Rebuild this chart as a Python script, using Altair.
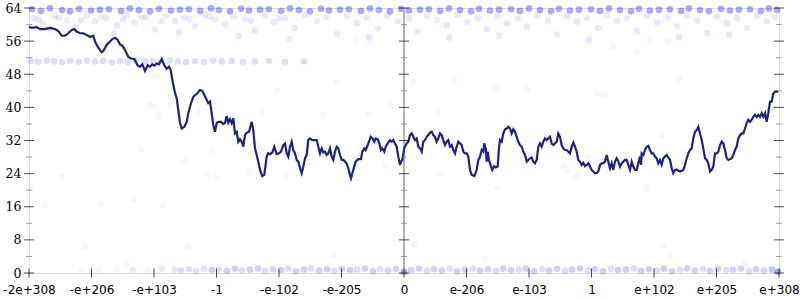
import altair as alt
import pandas as pd

# ---- axis labels (x positions are measured in "tick units" of 62.5 per label step, domain 0..750)
x_labels = ["-2e+308", "-e+206", "-e+103", "-1", "-e-102", "-e-205", "0",
            "e-206", "e-103", "1", "e+102", "e+205", "e+308"]
y_major = [0, 8, 16, 24, 32, 40, 48, 56, 64]
y_minor = [4, 12, 20, 28, 36, 44, 52, 60]
axis_x = [0, 375, 750]

# ---- main line
line_x = [0, 2.7, 7.7, 11, 16, 21, 26, 29.3, 32.7, 36, 39.3, 42.7, 45.3, 47.7, 51, 54.3, 57.7, 61, 64.3, 66,
          67.7, 69.3, 72.7, 74.3, 77.7, 81, 83.3, 86, 88.7, 91, 93.3, 96, 99.3, 102, 105.3, 108.7, 111, 113.3,
          116, 118.7, 121, 123.3, 125.3, 127.7, 130, 132.7, 135.3, 137.7, 140, 141.7, 143.7, 146, 147.7, 149.3,
          151, 152.7, 155.3, 157.7, 159.3, 162, 164.3, 166.7, 168.7, 171, 173.3, 175.3, 177.7, 179.3, 181,
          182.7, 184.3, 186, 187.7, 189.3, 192, 194.3, 196, 197.7, 199.3, 201, 202.7, 204.3, 206, 207.7, 209.3,
          211, 212.7, 214.3, 216, 217.7, 220, 222.7, 224.3, 226, 227.7, 229.3, 231, 233.3, 235.3, 237.7, 239.3,
          241, 243.3, 245.3, 247.7, 250, 252, 254.3, 256, 257.7, 259.3, 261, 262.7, 264.3, 266, 267.7, 269.3,
          271, 272.7, 274.3, 276, 277.7, 279.3, 281, 283.3, 285.3, 287.7, 289.3, 291, 292.7, 294.3, 296, 297.7,
          299.3, 301, 302.7, 304.3, 306, 307.7, 309.3, 311, 312.7, 314.3, 316, 317.7, 319.3, 321, 322, 324.3,
          326.7, 329.3, 332, 333.3, 335.3, 336.7, 338.7, 340, 341.7, 343.3, 345.3, 346.7, 348.7, 350.3, 352,
          353.3, 355.3, 356.7, 358.7, 361, 362.7, 364.3, 366, 367.7, 369.3, 371, 372, 373.3, 375.3, 377.7, 379.3,
          381, 382.7, 384.3, 386, 387.7, 389.3, 391, 392.7, 394.3, 396, 397.7, 399.3, 401, 402.7, 404.3, 406,
          407.7, 409.3, 411, 412.7, 414.3, 416, 417.7, 419.3, 421, 422.7, 424.3, 426, 427.7, 429.3, 431, 432.7,
          434.3, 436, 437.7, 439.3, 441, 442.7, 445.3, 447.7, 449.3, 451, 452.7, 454.3, 455.3, 456.7, 457.7,
          458.7, 460, 462, 463.3, 465, 466.7, 468.7, 470, 471, 472.7, 474.3, 476, 477.7, 479.3, 481, 482.7,
          484.3, 486, 487.7, 489.3, 491, 492.7, 494.3, 496, 497.7, 499.3, 501, 502.7, 504.3, 506, 507.7, 509.3,
          511, 512.7, 514.3, 516, 517.7, 519.3, 521, 522.7, 524.3, 526, 527.7, 529.3, 531, 532.7, 534.3, 536,
          537.7, 539.3, 541, 542.7, 544.3, 546, 547.7, 549.3, 551, 552.7, 554.3, 556, 557.7, 559.3, 561, 562.7,
          564.3, 566, 567.7, 569.3, 571, 572.7, 574.3, 576, 577.7, 579.3, 581, 582.7, 584.3, 586, 587.7, 589.3,
          591, 592.7, 594.3, 596, 597.7, 599.3, 601, 602.7, 604.3, 606, 607.7, 609.3, 611, 612, 612.7, 614.3,
          616, 617.7, 619.3, 621, 622.7, 624.3, 626, 627.7, 629.3, 631, 632.7, 634.3, 636, 637.7, 639.3, 641,
          642.7, 644.3, 646, 647.7, 649.3, 651, 652.7, 654.3, 656, 657.7, 659.3, 661, 662.7, 664.3, 666, 667.7,
          669.3, 671, 672.7, 674.3, 676, 677.7, 679.3, 681, 682.7, 684.3, 686, 687.7, 689.3, 691, 692.7, 694.3,
          696, 697.7, 699.3, 701, 702.7, 704.3, 706, 707.7, 709.3, 711, 712.7, 714.3, 716, 717.7, 719.3, 721,
          722.7, 724.3, 726, 727.7, 729.3, 731, 732.7, 734.3, 736, 737.7, 739.3, 741, 742.7, 744.3, 746, 747.7,
          749.3]
line_y = [59.5, 59.2, 59.4, 58.9, 58.9, 59.2, 58.9, 58.4, 57.3, 57.3, 57.9, 58.7, 58.9, 58.3, 57.9, 57.9, 57.5,
          57.0, 57.3, 55.9, 55.1, 54.4, 53.3, 53.6, 55.1, 55.9, 56.5, 56.8, 56.3, 55.2, 54.9, 53.9, 52.2, 51.8,
          51.7, 50.1, 49.8, 50.4, 48.8, 50.2, 49.8, 50.4, 50.1, 50.6, 50.4, 51.7, 50.2, 49.3, 49.8, 49.0, 46.2,
          43.5, 42.2, 39.4, 36.2, 34.9, 35.3, 36.5, 38.6, 41.0, 42.6, 43.0, 43.5, 44.2, 44.0, 43.0, 41.8, 41.0,
          41.4, 38.6, 35.7, 34.1, 36.2, 36.5, 36.5, 36.0, 36.2, 37.9, 36.3, 37.1, 36.2, 37.4, 33.7, 34.1, 31.7,
          32.3, 31.7, 30.5, 33.3, 33.9, 34.1, 36.5, 34.5, 30.1, 28.5, 26.9, 24.9, 23.4, 23.7, 28.1, 28.9, 28.7,
          29.1, 30.5, 28.7, 28.9, 29.3, 30.9, 31.3, 28.9, 28.1, 30.5, 31.7, 29.7, 28.9, 27.3, 26.9, 25.3, 24.1,
          25.7, 27.7, 28.5, 32.1, 32.5, 32.1, 32.1, 32.1, 30.5, 28.9, 30.1, 29.1, 29.3, 28.5, 28.9, 30.1, 28.1,
          27.3, 29.3, 30.5, 30.1, 28.5, 27.3, 27.3, 26.9, 26.5, 25.3, 23.7, 22.9, 24.9, 26.9, 27.5, 27.5, 29.3,
          30.1, 29.7, 30.9, 31.7, 32.9, 32.5, 31.7, 32.5, 32.3, 31.3, 29.7, 30.1, 29.3, 30.5, 31.3, 32.1, 31.7,
          32.1, 31.3, 30.5, 28.1, 26.1, 26.9, 27.3, 30.1, 31.3, 31.7, 33.3, 33.7, 32.9, 32.1, 32.5, 30.5, 30.1,
          29.3, 31.7, 32.1, 32.9, 33.3, 33.9, 34.1, 33.3, 32.9, 31.7, 32.5, 33.7, 33.3, 32.1, 30.9, 31.7, 32.1,
          30.5, 30.9, 29.7, 28.9, 30.5, 31.7, 31.3, 30.9, 29.3, 28.9, 28.9, 28.1, 24.9, 23.7, 23.4, 24.9, 27.3,
          28.1, 29.7, 29.3, 31.3, 30.1, 26.9, 29.3, 27.3, 25.7, 24.9, 25.8, 25.5, 25.7, 30.1, 32.1, 31.7, 33.7,
          34.7, 34.9, 35.3, 34.9, 33.7, 34.7, 34.1, 32.9, 31.7, 30.9, 30.5, 29.3, 28.5, 26.9, 27.3, 27.7, 27.9,
          26.9, 26.5, 27.3, 30.5, 31.3, 30.5, 31.7, 32.5, 32.1, 32.5, 32.9, 31.3, 30.9, 31.3, 31.7, 33.7, 32.9,
          30.9, 30.1, 29.7, 29.7, 29.3, 28.9, 30.5, 31.5, 30.5, 29.3, 27.3, 26.9, 26.1, 26.6, 25.8, 26.1, 26.5,
          25.7, 24.9, 24.5, 24.1, 24.1, 24.5, 26.1, 26.5, 26.5, 26.9, 28.5, 26.9, 25.3, 26.5, 24.9, 26.9, 27.7,
          26.9, 25.7, 26.5, 26.9, 27.3, 27.3, 26.1, 24.9, 26.9, 25.7, 24.9, 24.9, 26.5, 28.1, 26.1, 28.9, 28.5,
          29.7, 30.5, 30.7, 29.7, 28.9, 28.9, 28.1, 27.7, 26.5, 27.3, 26.1, 27.7, 28.1, 28.5, 27.9, 27.3, 25.3,
          24.1, 24.9, 25.0, 24.7, 24.5, 24.7, 24.9, 26.1, 27.7, 28.9, 29.7, 30.1, 32.5, 34.1, 34.5, 35.3, 33.7,
          32.1, 30.1, 27.7, 27.3, 26.5, 24.5, 24.9, 25.7, 28.9, 28.9, 29.3, 30.9, 31.7, 31.3, 29.7, 27.7, 27.3,
          27.5, 27.7, 28.5, 29.7, 30.5, 32.5, 33.3, 33.7, 33.7, 34.9, 36.2, 37.0, 36.5, 37.0, 37.7, 38.2, 37.7,
          38.2, 37.7, 38.6, 37.7, 38.6, 36.5, 38.6, 41.4, 41.4, 43.4, 43.8, 43.8, 43.8]

# ---- scatter samples (n = number of overlapping samples at that spot)
top_x = [3, 12, 21, 33, 41, 50, 62, 71, 80, 92, 101, 110, 121, 130, 142, 151, 160, 171, 182, 190, 201, 212,
         220, 231, 240, 252, 261, 270, 281, 292, 300, 311, 320, 332, 341, 350, 361, 372, 380, 391, 400, 411,
         420, 431, 442, 450, 461, 470, 482, 491, 500, 511, 522, 530, 541, 550, 562, 571, 580, 591, 602, 610,
         621, 630, 641, 652, 660, 671, 680, 692, 701, 710, 721, 732, 740, 748]
top_y = [63.7, 63.3, 63.9, 63.5, 63.2, 63.8, 63.4, 63.6, 63.7, 63.3, 63.9, 63.5, 63.2, 63.8, 63.4, 63.6,
         63.7, 63.3, 63.9, 63.5, 63.2, 63.8, 63.4, 63.6, 63.7, 63.3, 63.9, 63.5, 63.2, 63.8, 63.4, 63.6,
         63.7, 63.3, 63.9, 63.5, 63.2, 63.8, 63.4, 63.6, 63.7, 63.3, 63.9, 63.5, 63.2, 63.8, 63.4, 63.6,
         63.7, 63.3, 63.9, 63.5, 63.2, 63.8, 63.4, 63.6, 63.7, 63.3, 63.9, 63.5, 63.2, 63.8, 63.4, 63.6,
         63.7, 63.3, 63.9, 63.5, 63.2, 63.8, 63.4, 63.6, 63.7, 63.3, 63.9, 63.5]
haze_x = [5, 14, 26, 38, 47, 58, 66, 77, 88, 97, 106, 117, 126, 137, 146, 155, 166, 176, 186, 196, 205, 216,
          226, 236, 245, 256, 266, 276, 288, 297, 308, 318, 328, 338, 349, 358, 369, 380, 389, 398, 408, 418,
          428, 438, 449, 458, 468, 478, 489, 498, 508, 519, 528, 538, 548, 558, 569, 578, 588, 598, 608, 618,
          628, 639, 648, 658, 668, 678, 688, 698, 708, 718, 728, 738, 746, 20, 85, 150, 210, 260, 340, 420,
          470, 560, 650, 700, 10, 30, 52, 72, 94, 113, 133, 160, 181, 222, 250]
haze_y = [61.5, 60.2, 62.0, 61.0, 59.5, 62.2, 60.8, 61.6, 59.8, 62.3, 60.5, 61.8, 58.8, 62.1, 60.9, 61.7,
          59.6, 62.4, 61.2, 60.0, 62.0, 61.3, 58.5, 62.2, 60.6, 61.5, 59.2, 62.3, 60.9, 61.8, 57.8, 62.0,
          60.4, 61.7, 59.0, 62.2, 60.8, 61.5, 58.2, 62.1, 61.0, 59.8, 62.3, 60.6, 61.6, 58.9, 62.0, 60.3,
          61.4, 59.5, 62.2, 61.0, 57.6, 62.0, 60.7, 61.6, 59.2, 62.3, 60.9, 61.5, 58.4, 62.1, 60.5, 61.8,
          59.6, 62.2, 61.0, 57.9, 62.0, 60.4, 61.5, 59.1, 62.2, 60.8, 61.7, 59.0, 57.8, 58.1, 57.2, 56.5,
          57.0, 56.8, 57.3, 56.3, 57.0, 57.5, 61.2, 61.6, 61.0, 61.9, 61.3, 61.7, 60.8, 61.4, 61.9, 60.9, 61.5]
band51_x = [2, 9, 18, 25, 33, 41, 50, 58, 66, 74, 83, 91, 99, 107, 116, 124, 132, 141, 149, 157, 166, 175,
            184, 193, 203, 214, 226, 240, 256, 275]
band51_y = [51.2, 51.0, 51.3, 51.1, 50.9, 51.2, 51.0, 51.3, 51.1, 51.2, 50.9, 51.2, 51.0, 51.3, 51.1, 51.2,
            51.0, 51.3, 51.1, 50.9, 51.2, 51.0, 51.3, 51.1, 51.2, 51.0, 51.1, 51.2, 51.0, 51.1]
bottom_x = [52, 70, 88, 104, 119, 133, 146, 152, 160, 167, 175, 183, 190, 198, 206, 213, 221, 229, 236, 244,
            252, 259, 267, 275, 282, 290, 298, 305, 313, 321, 328, 336, 344, 351, 359, 367, 375, 382, 390, 398,
            405, 413, 421, 428, 436, 444, 451, 459, 467, 474, 482, 490, 497, 505, 513, 520, 528, 536, 543, 551,
            559, 566, 574, 582, 589, 597, 605, 612, 620, 628, 635, 643, 651, 658, 666, 674, 681, 689, 697, 704,
            712, 720, 727, 735, 743, 749]
bottom_y = [0.9, 0.7, 1.0, 0.8, 0.6, 1.1, 0.8, 0.6, 0.9, 0.4, 1.1, 0.7, 0.9, 0.5, 1.0, 0.6, 0.8, 1.1, 0.5,
            0.9, 0.7, 1.0, 0.4, 0.8, 1.1, 0.6, 0.9, 0.5, 1.0, 0.7, 0.8, 1.1, 0.4, 0.9, 0.6, 1.0, 0.3, 0.7,
            1.1, 0.5, 0.9, 0.6, 1.0, 0.4, 0.8, 1.1, 0.6, 0.9, 0.5, 1.0, 0.7, 0.8, 1.1, 0.4, 0.9, 0.6, 1.0,
            0.5, 0.8, 1.1, 0.6, 0.9, 0.4, 1.0, 0.7, 0.8, 1.1, 0.5, 0.9, 0.6, 1.0, 0.4, 0.8, 1.1, 0.6, 0.9,
            0.5, 1.0, 0.7, 0.8, 1.1, 0.4, 0.9, 0.6, 0.8, 0.3]
bottom_n = [1, 1, 1, 2, 1, 2, 2, 3, 3, 3, 3, 4, 3, 4, 4, 3, 4, 4, 3, 4, 4, 3, 4, 4, 3, 4, 4, 3, 4, 4, 3, 4,
            4, 3, 4, 4, 7, 4, 4, 3, 4, 4, 3, 4, 4, 3, 4, 4, 3, 4, 4, 3, 4, 4, 3, 4, 4, 3, 4, 4, 3, 4, 4, 3,
            4, 4, 3, 4, 4, 3, 4, 4, 3, 4, 4, 3, 4, 4, 3, 4, 4, 3, 4, 4, 5, 7]
sparse_x = [121, 124.3, 129.3, 112.7, 156, 32.7, 1, 16, 72.7, 105, 133.3, 141, 169.3, 248.7, 233.3, 293.7,
            183.3, 229.3, 178.3, 187.7, 220, 256, 307.7, 384.3, 426, 339.3, 361, 409.3, 356, 411, 466.7,
            498.7, 568.7, 575.3, 559.3, 534.3, 537.7, 546.7, 467.7, 650, 632.7, 617.7, 127.7, 584.3, 607.7,
            620, 639, 341, 327.7, 304.3, 386, 456, 56, 97.7, 159.3, 634.3, 641, 716]
sparse_y = [40.6, 40.0, 37.9, 29.7, 27.1, 23.3, 20.5, 16.4, 16.7, 17.8, 16.2, 40.8, 38.7, 44.2, 38.8, 38.2,
            29.3, 30.9, 23.9, 22.9, 24.2, 23.4, 46.0, 46.2, 46.6, 38.3, 40.7, 39.0, 26.1, 23.8, 44.8, 44.4,
            43.4, 43.0, 27.9, 25.7, 24.7, 23.4, 20.5, 47.0, 33.3, 20.5, 47.4, 54.7, 53.4, 56.3, 55.9, 55.5,
            56.3, 4.3, 6.8, 3.5, 6.4, 2.3, 6.4, 6.4, 4.3, 2.5]

pts = pd.concat([
    pd.DataFrame({"x": top_x, "y": top_y, "n": 7}),
    pd.DataFrame({"x": haze_x, "y": haze_y, "n": 2}),
    pd.DataFrame({"x": band51_x, "y": band51_y, "n": 3}),
    pd.DataFrame({"x": bottom_x, "y": bottom_y, "n": bottom_n}),
    pd.DataFrame({"x": sparse_x, "y": sparse_y, "n": 1}),
], ignore_index=True)
line_df = pd.DataFrame({"x": line_x, "y": line_y})

step = 750 / (len(x_labels) - 1)
x_tick_vals = [i * step for i in range(len(x_labels))]
lab_arr = "[" + ",".join("'" + s + "'" for s in x_labels) + "]"

xs = alt.Scale(domain=[0, 750], nice=False, zero=False)
ys = alt.Scale(domain=[0, 64], nice=False, zero=False)

x_axis = alt.Axis(values=x_tick_vals, labelExpr=lab_arr + "[round(datum.value / %s)]" % step,
                  ticks=False, domain=False, grid=False, title=None, labelFont="DejaVu Sans",
                  labelFontSize=12, labelColor="black", labelPadding=11, labelFlush=False,
                  labelOverlap=False)
y_axis = alt.Axis(values=y_major, ticks=False, domain=False, grid=False, title=None,
                  labelFont="DejaVu Serif", labelFontSize=12.5, labelColor="black", labelPadding=8,
                  labelOverlap=False, labelFlush=False)


def X(f="x"):
    return alt.X(f + ":Q", scale=xs, axis=x_axis)


def Y(f="y"):
    return alt.Y(f + ":Q", scale=ys, axis=y_axis)


scatter = alt.Chart(pts).mark_circle(size=44, color="#1f1fff", strokeWidth=1).encode(
    x=X(), y=Y(),
    fillOpacity=alt.FillOpacity("n:Q", scale=alt.Scale(domain=[1, 7], range=[0.05, 0.55]), legend=None),
    strokeOpacity=alt.StrokeOpacity("n:Q", scale=alt.Scale(domain=[1, 7], range=[0.07, 0.55]), legend=None),
)

center = alt.Chart(pd.DataFrame({"x": [375]})).mark_rule(color="#b4b4b4", strokeWidth=2).encode(x=X())

yt_major = pd.DataFrame([(a, v) for a in axis_x for v in y_major], columns=["x", "y"])
yt_minor = pd.DataFrame([(a, v) for a in axis_x for v in y_minor], columns=["x", "y"])
xt = pd.DataFrame({"x": x_tick_vals, "y": 0})

ticks_major = alt.Chart(yt_major).mark_tick(orient="horizontal", size=10, thickness=1, color="black").encode(
    x=X(), y=Y())
ticks_minor = alt.Chart(yt_minor).mark_tick(orient="horizontal", size=6, thickness=1, color="#777777").encode(
    x=X(), y=Y())
ticks_x = alt.Chart(xt).mark_tick(orient="vertical", size=9, thickness=1, color="black").encode(
    x=X(), y=Y())

line = alt.Chart(line_df).mark_line(color="#20208c", strokeWidth=2.2).encode(x=X(), y=Y())

chart = alt.layer(scatter, center, line, ticks_minor, ticks_major, ticks_x).properties(
    width=750, height=265,
    autosize=alt.AutoSizeParams(type="none"),
    padding={"left": 29, "top": 8, "right": 21, "bottom": 27},
).configure_view(stroke="#b4b4b4", strokeWidth=2).configure(background="white")

chart.save("out.html", embed_options={"renderer": "svg", "actions": False})
